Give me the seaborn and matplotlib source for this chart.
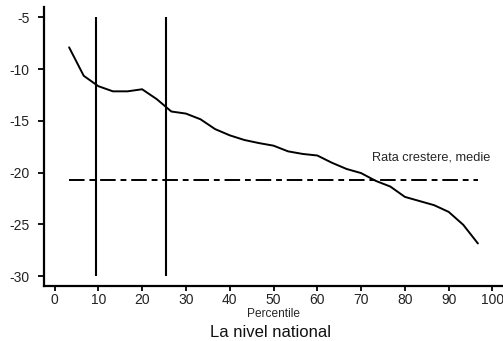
import matplotlib
matplotlib.use("Agg")
import matplotlib.pyplot as plt
import seaborn as sns
import pandas as pd

# Percentile midpoints (30 equal groups, the last one omitted)
percentiles = [3.33, 6.67, 10.0, 13.33, 16.67, 20.0, 23.33, 26.67, 30.0, 33.33,
               36.67, 40.0, 43.33, 46.67, 50.0, 53.33, 56.67, 60.0, 63.33, 66.67,
               70.0, 73.33, 76.67, 80.0, 83.33, 86.67, 90.0, 93.33, 96.67]
growth_rate = [-7.9, -10.65, -11.65, -12.15, -12.15, -11.95, -12.9, -14.1, -14.3, -14.85,
               -15.8, -16.4, -16.85, -17.15, -17.4, -17.95, -18.2, -18.35, -19.05, -19.65,
               -20.05, -20.8, -21.35, -22.35, -22.75, -23.15, -23.8, -25.05, -26.85]
mean_rate = -20.7
marker_percentiles = [9.5, 25.4]
y_ticks = [-5, -10, -15, -20, -25, -30]
x_ticks = [0, 10, 20, 30, 40, 50, 60, 70, 80, 90, 100]

sns.set_theme(style="white")
plt.rcParams["font.family"] = ["Liberation Sans", "DejaVu Sans"]

df = pd.DataFrame({"Percentile": percentiles, "Rata": growth_rate})

fig = plt.figure(figsize=(5.03, 3.41), dpi=100)
ax = fig.add_axes([0.0875, 0.1613, 0.9125, 0.8182])

sns.lineplot(data=df, x="Percentile", y="Rata", ax=ax, color="black", linewidth=1.4)
ax.vlines(marker_percentiles, -30, -5, colors="black", linewidth=1.5)
ax.hlines(mean_rate, percentiles[0], percentiles[-1], colors="black",
          linewidth=1.4, linestyles=(0, (8, 2.5, 3, 2.5)))
ax.text(72.5, -18.5, "Rata crestere, medie", fontsize=9.2, va="center", ha="left")

ax.set_xlim(-2.4, 102.4)
ax.set_ylim(-30.96, -4.0)
ax.set_xticks(x_ticks)
ax.set_yticks(y_ticks)
ax.set_xticklabels([str(v) for v in x_ticks], fontsize=10)
ax.set_yticklabels([str(v) for v in y_ticks], fontsize=10)
ax.tick_params(axis="both", direction="out", width=1.3, color="black",
               bottom=True, left=True, labelcolor="#222222")
ax.tick_params(axis="y", length=4, pad=6.5)
ax.tick_params(axis="x", length=3.5, pad=1.5)

ax.set_xlabel("Percentile", fontsize=8.6, labelpad=0.5)
ax.set_ylabel("")

for side in ("top", "right"):
    ax.spines[side].set_visible(False)
for side in ("left", "bottom"):
    ax.spines[side].set_color("black")
    ax.spines[side].set_linewidth(1.6)

fig.text(0.537, 0.025, "La nivel national", fontsize=12, ha="center", va="center",
         color="#111111")

fig.savefig("out.png", dpi=100)
